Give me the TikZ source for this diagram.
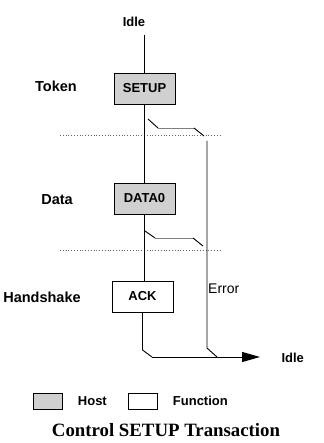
\documentclass[tikz,border=0pt]{standalone}
\usepackage{fontspec}
\setmainfont{Liberation Serif}
\setsansfont{Liberation Sans}
\usepackage{xcolor}
\usetikzlibrary{arrows.meta, positioning, calc}
\definecolor{hostgray}{HTML}{D0D0D0}
\definecolor{branchgray}{HTML}{808080}
\tikzset{
  lbl/.style={font=\fontsize{14.5}{16}\sffamily\bfseries, text=black},
  small/.style={font=\fontsize{13}{15}\sffamily\bfseries, text=black},
  pkt/.style={draw=black, fill=#1, line width=0.8pt, minimum width=61pt, minimum height=31pt,
              font=\fontsize{13}{15}\sffamily\bfseries, inner sep=0pt},
  pkt/.default=white,
  key/.style={draw=black, fill=#1, line width=0.8pt, minimum width=29pt, minimum height=16pt, inner sep=0pt},
  key/.default=white,
  flow/.style={line width=0.9pt, color=black},
  branch/.style={line width=0.9pt, color=branchgray},
  sep/.style={dotted, line width=0.8pt, color=black!60},
}
\begin{document}
\begin{tikzpicture}[x=1pt, y=-1pt]
  \useasboundingbox (0,0) rectangle (323,443);
  % packets
  \node[pkt=hostgray] (setup) at (144.5,88.5) {SETUP};
  \node[pkt=hostgray] (data0) at (144.5,198.5) {DATA0};
  \node[pkt] (ack) at (142.5,296.5) {ACK};
  % stage labels
  \node[lbl] (token) at (56,86) {Token};
  \node[lbl] (data) at (57,200) {Data};
  \node[lbl] (hshake) at (42,297) {Handshake};
  \node[small] (idletop) at (134,22) {Idle};
  \node[small, anchor=west] (idleend) at (278,358) {Idle};
  \node[font=\fontsize{14}{16}\sffamily, anchor=west, inner sep=0pt] (errlbl) at (208,289) {Error};
  % points on the paths
  \coordinate (start) at (144.5,35);
  \coordinate (b1a) at (148,119);
  \coordinate (b1b) at (158,128);
  \coordinate (b1c) at (194,128);
  \coordinate (b1d) at (204,136);
  \coordinate (b2a) at (145,231);
  \coordinate (b2b) at (155,238);
  \coordinate (b2c) at (193,238);
  \coordinate (b2d) at (203,246);
  \coordinate (errtop) at (207,141);
  \coordinate (errbend) at (207,348);
  \coordinate (errjoin) at (217,357);
  \coordinate (ackbend) at (142.5,350);
  \coordinate (ackjoin) at (152,357);
  \coordinate (arrowend) at (260,357);
  % separators
  \draw[sep] (60,135) -- (221,135);
  \draw[sep] (60,250) -- (221,250);
  % main flow
  \draw[flow] (start) -- (setup.north);
  \draw[flow] (setup.south) -- (data0.north);
  \draw[flow] (data0.south) -- (data0.south |- ack.north);
  \draw[flow] (ack.south) -- (ackbend) -- (ackjoin);
  \draw[flow, -{Triangle[length=18pt, width=10pt]}] (ackjoin) -- (arrowend);
  \draw[flow] (errtop) -- (errbend) -- (errjoin);
  % error branches
  \draw[flow] (b1a) -- (b1b);
  \draw[branch] (b1b) -- (b1c);
  \draw[flow] (b1c) -- (b1d);
  \draw[flow] (b2a) -- (b2b);
  \draw[branch] (b2b) -- (b2c);
  \draw[flow] (b2c) -- (b2d);
  % legend
  \node[key=hostgray] (hostkey) at (47.5,401) {};
  \node[small, right=12pt of hostkey] (hostlbl) {Host};
  \node[key] (funckey) at (142.5,401) {};
  \node[small, right=12pt of funckey] (funclbl) {Function};
  \node[font=\fontsize{18.8}{20}\rmfamily\bfseries] (title) at (166,430) {Control SETUP Transaction};
\end{tikzpicture}
\end{document}
